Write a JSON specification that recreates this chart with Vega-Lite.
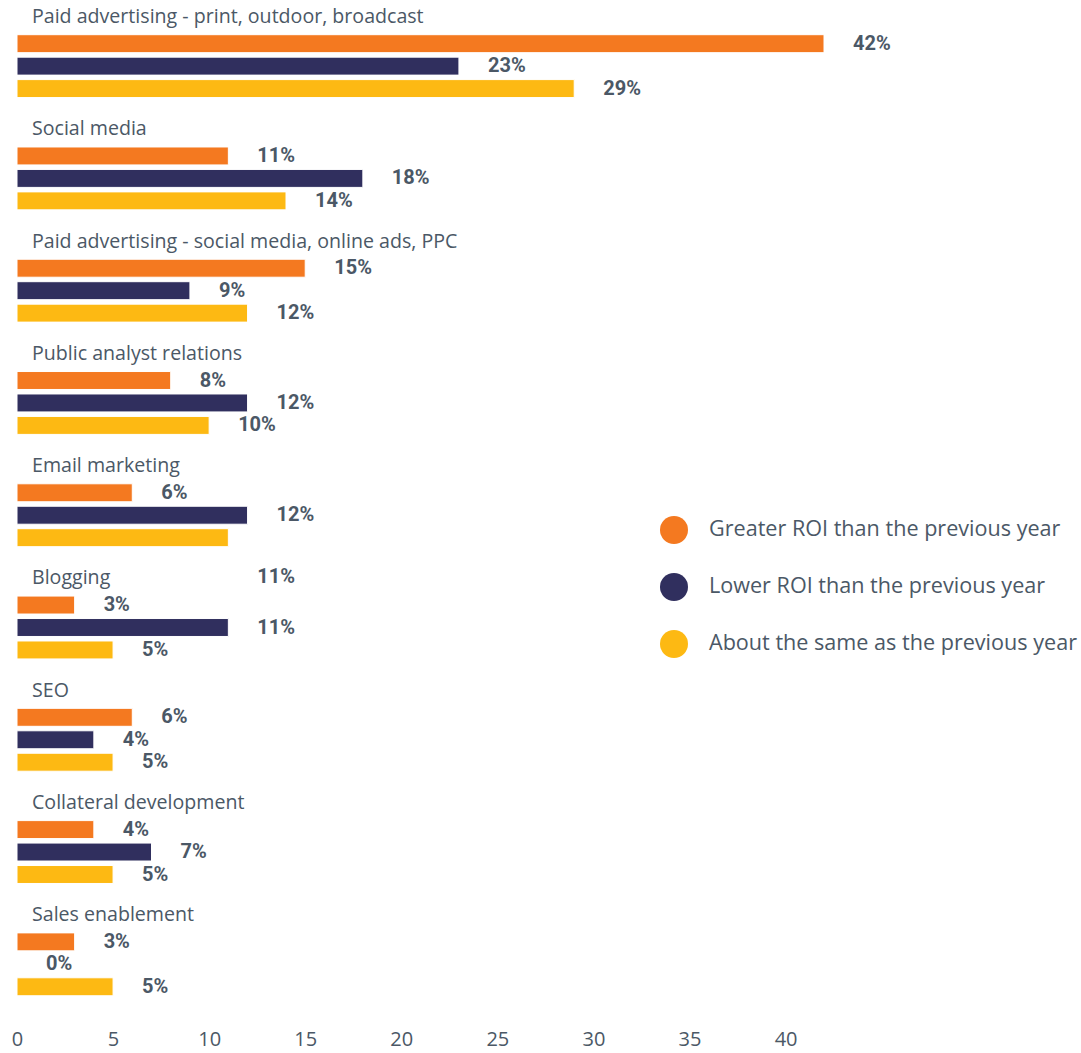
{
  "$schema": "https://vega.github.io/schema/vega-lite/v6.json",
  "width": 807,
  "height": 988,
  "autosize": {"type": "none"},
  "padding": {"left": 17, "top": 10, "right": 257, "bottom": 55},
  "background": "white",
  "config": {"view": {"stroke": null}},
  "data": {
    "values": [
      {"category": "Paid advertising - print, outdoor, broadcast", "series": "Greater ROI than the previous year", "value": 42},
      {"category": "Paid advertising - print, outdoor, broadcast", "series": "Lower ROI than the previous year", "value": 23},
      {"category": "Paid advertising - print, outdoor, broadcast", "series": "About the same as the previous year", "value": 29},
      {"category": "Social media", "series": "Greater ROI than the previous year", "value": 11},
      {"category": "Social media", "series": "Lower ROI than the previous year", "value": 18},
      {"category": "Social media", "series": "About the same as the previous year", "value": 14},
      {"category": "Paid advertising - social media, online ads, PPC", "series": "Greater ROI than the previous year", "value": 15},
      {"category": "Paid advertising - social media, online ads, PPC", "series": "Lower ROI than the previous year", "value": 9},
      {"category": "Paid advertising - social media, online ads, PPC", "series": "About the same as the previous year", "value": 12},
      {"category": "Public analyst relations", "series": "Greater ROI than the previous year", "value": 8},
      {"category": "Public analyst relations", "series": "Lower ROI than the previous year", "value": 12},
      {"category": "Public analyst relations", "series": "About the same as the previous year", "value": 10},
      {"category": "Email marketing", "series": "Greater ROI than the previous year", "value": 6},
      {"category": "Email marketing", "series": "Lower ROI than the previous year", "value": 12},
      {"category": "Email marketing", "series": "About the same as the previous year", "value": 11},
      {"category": "Blogging", "series": "Greater ROI than the previous year", "value": 3},
      {"category": "Blogging", "series": "Lower ROI than the previous year", "value": 11},
      {"category": "Blogging", "series": "About the same as the previous year", "value": 5},
      {"category": "SEO", "series": "Greater ROI than the previous year", "value": 6},
      {"category": "SEO", "series": "Lower ROI than the previous year", "value": 4},
      {"category": "SEO", "series": "About the same as the previous year", "value": 5},
      {"category": "Collateral development", "series": "Greater ROI than the previous year", "value": 4},
      {"category": "Collateral development", "series": "Lower ROI than the previous year", "value": 7},
      {"category": "Collateral development", "series": "About the same as the previous year", "value": 5},
      {"category": "Sales enablement", "series": "Greater ROI than the previous year", "value": 3},
      {"category": "Sales enablement", "series": "Lower ROI than the previous year", "value": 0},
      {"category": "Sales enablement", "series": "About the same as the previous year", "value": 5}
    ]
  },
  "encoding": {
    "y": {
      "field": "category",
      "type": "nominal",
      "sort": null,
      "axis": null,
      "scale": {"paddingInner": 0.2, "paddingOuter": 0}
    }
  },
  "layer": [
    {
      "mark": {"type": "bar", "stroke": "white", "strokeWidth": 1},
      "encoding": {
        "x": {
          "field": "value",
          "type": "quantitative",
          "scale": {"domain": [0, 42], "nice": false},
          "axis": {
            "title": null,
            "domain": false,
            "ticks": false,
            "grid": false,
            "values": [0, 5, 10, 15, 20, 25, 30, 35, 40],
            "labelFlush": false,
            "labelFont": "Open Sans",
            "labelFontSize": 20,
            "labelColor": "#4b5866",
            "labelPadding": 31
          }
        },
        "yOffset": {
          "field": "series",
          "type": "nominal",
          "scale": {
            "domain": ["_", "Greater ROI than the previous year", "Lower ROI than the previous year", "About the same as the previous year"],
            "paddingInner": 0.2,
            "paddingOuter": 0.1
          }
        },
        "color": {
          "field": "series",
          "type": "nominal",
          "scale": {
            "domain": ["Greater ROI than the previous year", "Lower ROI than the previous year", "About the same as the previous year"],
            "range": ["#F47920", "#302F5E", "#FDB913"]
          },
          "legend": {
            "title": null,
            "orient": "none",
            "legendX": 643,
            "legendY": 506,
            "padding": 0,
            "symbolType": "circle",
            "symbolSize": 784,
            "symbolStrokeWidth": 0,
            "labelFont": "Open Sans",
            "labelFontSize": 21.6,
            "labelColor": "#4b5866",
            "labelOffset": 21,
            "rowPadding": 29,
            "labelLimit": 500
          }
        }
      }
    },
    {
      "transform": [{"calculate": "datum.value + '%'", "as": "label"}],
      "mark": {
        "type": "text",
        "align": "left",
        "baseline": "middle",
        "dx": 29,
        "dy": {"expr": "datum.category === 'Email marketing' && datum.series === 'About the same as the previous year' ? 39 : 0"},
        "font": "Roboto",
        "fontWeight": "bold",
        "fontSize": 20,
        "color": "#4b5866"
      },
      "encoding": {
        "x": {"field": "value", "type": "quantitative"},
        "yOffset": {"field": "series", "type": "nominal"},
        "text": {"field": "label", "type": "nominal"}
      }
    },
    {
      "transform": [{"filter": "datum.series === 'Greater ROI than the previous year'"}],
      "mark": {
        "type": "text",
        "align": "left",
        "baseline": "middle",
        "dx": 15,
        "dy": 7,
        "font": "Open Sans",
        "fontSize": 19.6,
        "color": "#4b5866"
      },
      "encoding": {
        "x": {"datum": 0, "type": "quantitative"},
        "y": {"field": "category", "type": "nominal", "sort": null, "bandPosition": 0},
        "text": {"field": "category", "type": "nominal"}
      }
    }
  ]
}
